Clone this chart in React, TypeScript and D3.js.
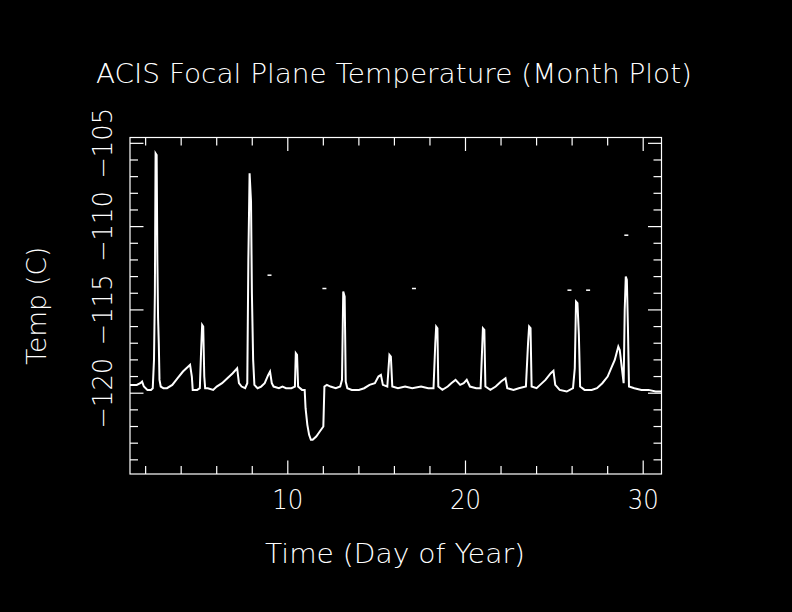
import React from "react";
import * as d3 from "d3";

// ACIS focal plane temperature, month plot
const days = [
  1.12, 1.5, 1.7, 1.8, 1.9, 2.1, 2.3, 2.4, 2.47, 2.52, 2.56, 2.62, 2.66, 2.7, 2.74, 2.78, 2.85,
  3.0, 3.2, 3.5, 3.8, 4.1, 4.4, 4.5, 4.6, 4.65, 4.9, 5.05, 5.12, 5.18, 5.24, 5.3, 5.35, 5.5,
  5.8, 6.0, 6.3, 6.6, 6.9, 7.15, 7.25, 7.4, 7.6, 7.72, 7.78, 7.85, 7.93, 7.98, 8.05, 8.12,
  8.3, 8.5, 8.7, 8.9, 9.0, 9.1, 9.2, 9.5, 9.7, 9.9, 10.2, 10.4, 10.45, 10.52, 10.58, 10.8,
  10.95, 11.0, 11.1, 11.2, 11.3, 11.4, 11.6, 11.8, 12.0, 12.06, 12.2, 12.4, 12.7, 12.95,
  13.05, 13.12, 13.2, 13.26, 13.35, 13.6, 14.0, 14.3, 14.6, 14.9, 15.1, 15.24, 15.35, 15.6,
  15.72, 15.8, 15.88, 16.2, 16.6, 17.0, 17.5, 17.9, 18.2, 18.3, 18.35, 18.42, 18.47, 18.7,
  19.0, 19.2, 19.44, 19.7, 19.9, 20.07, 20.25, 20.6, 20.85, 20.93, 20.98, 21.06, 21.12, 21.4,
  21.7, 22.0, 22.25, 22.35, 22.7, 23.0, 23.4, 23.52, 23.58, 23.66, 23.72, 24.0, 24.2, 24.5,
  24.8, 24.95, 25.05, 25.3, 25.7, 26.05, 26.15, 26.22, 26.3, 26.38, 26.45, 26.7, 27.1, 27.4,
  27.7, 28.0, 28.2, 28.4, 28.6, 28.68, 28.8, 28.9, 28.96, 29.02, 29.08, 29.14, 29.2, 29.5,
  29.9, 30.3, 30.7, 31.03,
];
const temps = [
  -119.5, -119.5, -119.4, -119.3, -119.6, -119.8, -119.8, -119.7, -118.0, -114.0, -105.6, -105.7, -112.0, -115.5, -117.0, -119.2, -119.6,
  -119.7, -119.7, -119.5, -119.1, -118.7, -118.4, -118.3, -119.0, -119.8, -119.8, -119.7, -117.5, -115.9, -116.0, -119.0, -119.7, -119.7,
  -119.8, -119.6, -119.4, -119.1, -118.8, -118.5, -119.4, -119.6, -119.7, -119.4, -112.0, -106.8, -108.5, -114.0, -118.0, -119.5,
  -119.7, -119.6, -119.4, -118.9, -118.7, -119.4, -119.6, -119.7, -119.6, -119.7, -119.7, -119.6, -117.6, -117.7, -119.6, -119.8,
  -119.8, -120.9, -121.9, -122.5, -122.8, -122.8, -122.6, -122.3, -122.0, -119.6, -119.5, -119.6, -119.7, -119.6,
  -119.2, -113.9, -114.2, -119.3, -119.7, -119.8, -119.8, -119.7, -119.5, -119.4, -119.0, -118.9, -119.5, -119.6,
  -117.7, -117.8, -119.6, -119.7, -119.6, -119.7, -119.6, -119.7, -119.7, -117.0, -116.0, -116.1, -119.6, -119.8,
  -119.6, -119.4, -119.2, -119.5, -119.4, -119.2, -119.6, -119.7, -119.7, -117.5, -116.1, -116.2, -119.6, -119.8,
  -119.6, -119.3, -119.1, -119.7, -119.8, -119.7, -119.6, -117.0, -116.0, -116.1, -119.6, -119.7, -119.5, -119.2,
  -118.8, -118.65, -119.5, -119.8, -119.9, -119.7, -118.5, -114.5, -114.6, -116.5, -119.6, -119.8, -119.8, -119.7,
  -119.4, -119.0, -118.5, -118.0, -117.2, -117.4, -118.5, -119.4, -115.0, -113.0, -113.2, -116.0, -119.6, -119.7,
  -119.8, -119.8, -119.9, -119.9,
];

// stray single readings
const strayDays = [8.97, 12.06, 17.1, 25.85, 26.9, 29.05];
const strayTemps = [-112.9, -113.7, -113.7, -113.8, -113.8, -110.5];

const xMajor = [10, 20, 30];
const xMinor = [2, 4, 6, 8, 12, 14, 16, 18, 22, 24, 26, 28];
const yMajor = [-105, -110, -115, -120];
const yMinor = [-106, -107, -108, -109, -111, -112, -113, -114, -116, -117, -118, -119, -121, -122, -123, -124];

const title = "ACIS Focal Plane Temperature (Month Plot)";
const xTitle = "Time (Day of Year)";
const yTitle = "Temp (C)";

const W = 792;
const H = 612;
const left = 130, right = 661.5, top = 137.5, bottom = 474;
const font = "'DejaVu Sans', sans-serif";

export default function App() {
  const x = d3.scaleLinear().domain([1.12, 31.03]).range([left, right]);
  const y = d3.scaleLinear().domain([-124.85, -104.65]).range([bottom, top]);

  const pts: [number, number][] = days.map((d, i) => [d, temps[i]]);
  const line = d3
    .line<[number, number]>()
    .x((d) => x(d[0]))
    .y((d) => y(d[1]));

  const minor = 8;
  const major = 13.5;

  return (
    <svg
      width={W}
      height={H}
      style={{ position: "absolute", left: 0, top: 0, background: "#000" }}
    >
      <rect x={0} y={0} width={W} height={H} fill="#000" />
      <text
        x={394}
        y={83}
        fill="#fff"
        fontFamily={font}
        fontWeight={200}
        fontSize={27}
        textAnchor="middle"
        textLength={596}
        lengthAdjust="spacingAndGlyphs"
      >
        {title}
      </text>

      {/* frame */}
      <rect x={left} y={top} width={right - left} height={bottom - top} fill="none" stroke="#fff" strokeWidth={1.2} />

      {/* x ticks, bottom and top */}
      {xMajor.concat(xMinor).map((v) => {
        const len = xMajor.includes(v) ? major : minor;
        return (
          <g key={"x" + v} stroke="#fff" strokeWidth={1.2}>
            <line x1={x(v)} x2={x(v)} y1={bottom} y2={bottom - len} />
            <line x1={x(v)} x2={x(v)} y1={top} y2={top + len} />
          </g>
        );
      })}
      {/* y ticks, left and right */}
      {yMajor.concat(yMinor).map((v) => {
        const len = yMajor.includes(v) ? major : minor;
        return (
          <g key={"y" + v} stroke="#fff" strokeWidth={1.2}>
            <line x1={left} x2={left + len} y1={y(v)} y2={y(v)} />
            <line x1={right} x2={right - len} y1={y(v)} y2={y(v)} />
          </g>
        );
      })}

      {xMajor.map((v) => (
        <text
          key={"xl" + v}
          x={x(v)}
          y={509}
          fill="#fff"
          fontFamily={font}
          fontWeight={200}
          fontSize={27}
          textAnchor="middle"
          textLength={31}
          lengthAdjust="spacingAndGlyphs"
        >
          {v}
        </text>
      ))}
      {yMajor.map((v) => (
        <text
          key={"yl" + v}
          transform={`translate(112,${y(v)}) rotate(-90)`}
          fill="#fff"
          fontFamily={font}
          fontWeight={200}
          fontSize={27}
          textAnchor="middle"
          textLength={71}
          lengthAdjust="spacingAndGlyphs"
        >
          {"\u2212" + Math.abs(v)}
        </text>
      ))}

      <text
        x={395}
        y={563}
        fill="#fff"
        fontFamily={font}
        fontWeight={200}
        fontSize={27}
        textAnchor="middle"
        textLength={260}
        lengthAdjust="spacingAndGlyphs"
      >
        {xTitle}
      </text>
      <text
        transform={`translate(46,${(top + bottom) / 2}) rotate(-90)`}
        fill="#fff"
        fontFamily={font}
        fontWeight={200}
        fontSize={27}
        textAnchor="middle"
        textLength={118}
        lengthAdjust="spacingAndGlyphs"
      >
        {yTitle}
      </text>

      <path d={line(pts) ?? ""} fill="none" stroke="#fff" strokeWidth={2} strokeLinejoin="miter" />
      {strayDays.map((d, i) => (
        <rect key={"s" + i} x={x(d) - 2} y={y(strayTemps[i]) - 0.5} width={4} height={1.5} fill="#fff" />
      ))}
    </svg>
  );
}
